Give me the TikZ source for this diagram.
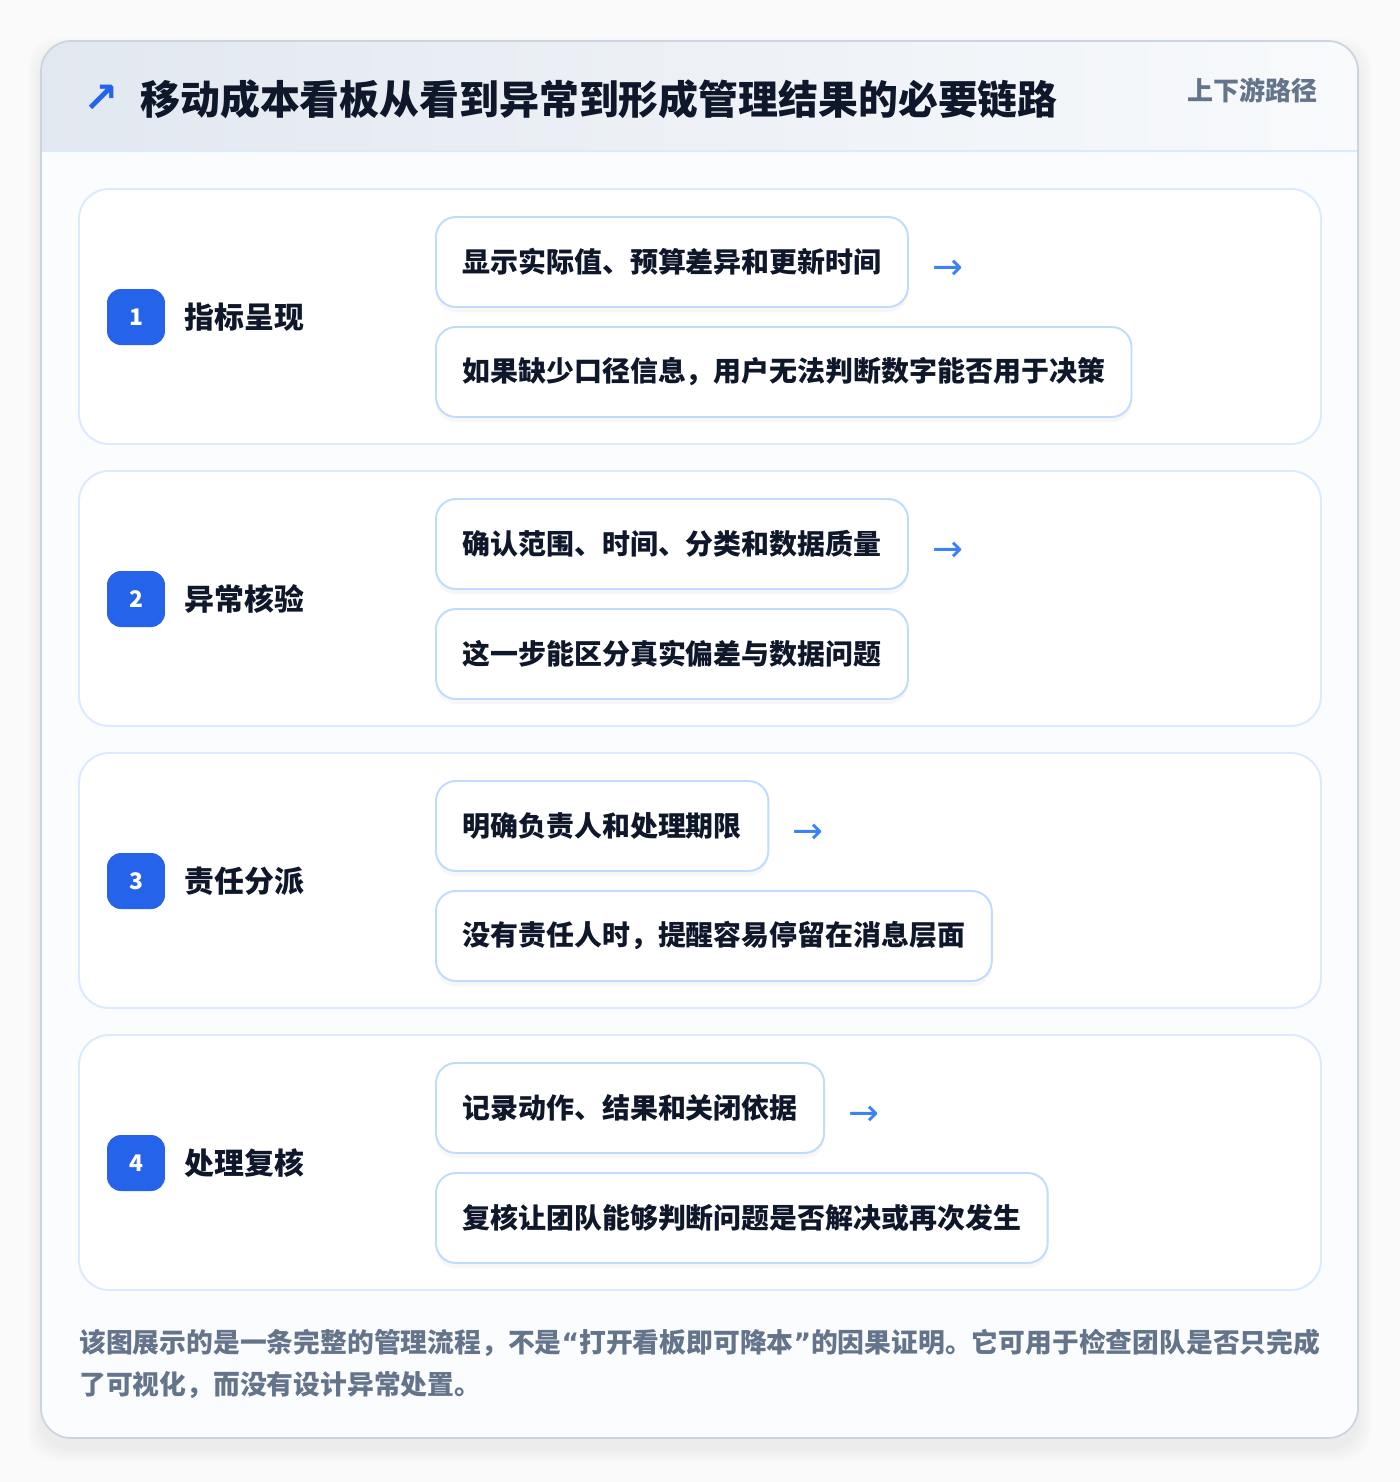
\documentclass[tikz,border=0pt]{standalone}
\usepackage{fontspec}
\setmainfont{Noto Sans CJK SC}
\newfontfamily\symfont{DejaVu Sans}
\usetikzlibrary{positioning, shadows}

\definecolor{ink}{HTML}{0F172A}
\definecolor{muted}{HTML}{64748B}
\definecolor{badgeblue}{HTML}{2563EB}
\definecolor{arrowblue}{HTML}{3B82F6}
\definecolor{secline}{HTML}{DBEAFE}
\definecolor{boxline}{HTML}{BFDBFE}
\definecolor{cardline}{HTML}{CBD5E1}
\definecolor{headleft}{HTML}{E2E8F0}
\definecolor{headright}{HTML}{F8FAFC}
\definecolor{pagebg}{HTML}{FAFAFB}
\definecolor{cardbg}{HTML}{FBFCFE}

\begin{document}
\begin{tikzpicture}[x=0.02cm, y=-0.02cm,
    secbox/.style={draw=secline, line width=1.1pt, fill=white, rounded corners=0.6cm},
    badge/.style={fill=badgeblue, text=white, rounded corners=0.28cm, minimum width=1.16cm,
      minimum height=1.12cm, inner sep=0pt, font=\bfseries\fontsize{13}{13}\selectfont},
    steplabel/.style={text=ink, inner sep=0pt, font=\bfseries\fontsize{17}{20}\selectfont},
    stepbox/.style={draw=boxline, line width=1.1pt, fill=white, rounded corners=0.4cm,
      minimum height=1.8cm, inner xsep=0.53cm, inner ysep=0pt, text=ink,
      font=\bfseries\fontsize{15.9}{19}\selectfont,
      drop shadow={opacity=0.06, shadow xshift=0pt, shadow yshift=-3pt}},
    flowarrow/.style={text=arrowblue, inner sep=0pt, yshift=-4.5pt, font=\symfont\fontsize{21}{21}\selectfont},
  ]
  \useasboundingbox (0,0) rectangle (1400,1482);
  \fill[pagebg] (0,0) rectangle (1400,1482);

  % card shadow
  \foreach \d in {1,...,14}
    \fill[black, opacity=0.005, rounded corners=0.6cm] ({41-\d},{41-\d+10}) rectangle ({1358+\d},{1438+\d+10});

  % card and header band
  \fill[cardbg, rounded corners=0.6cm] (41,41) rectangle (1358,1438);
  \begin{scope}
    \clip[rounded corners=0.6cm] (41,41) rectangle (1358,1438);
    \shade[left color=headleft, right color=headright] (41,41) rectangle (1358,151);
  \end{scope}
  \draw[secline, line width=1pt] (41,151) -- (1358,151);
  \draw[cardline, line width=1pt, rounded corners=0.6cm] (41,41) rectangle (1358,1438);

  \node[text=badgeblue, inner sep=0pt, font=\symfont\bfseries\fontsize{24}{24}\selectfont] (icon) at (101,99) {↗};
  \node[anchor=west, text=ink, inner sep=0pt, font=\bfseries\fontsize{22.7}{26}\selectfont] (title) at (140,99)
    {移动成本看板从看到异常到形成管理结果的必要链路};
  \node[anchor=east, text=muted, inner sep=0pt, font=\bfseries\fontsize{14.8}{18}\selectfont] (tag) at (1318,90)
    {上下游路径};

  % the four stages
  \foreach \k/\lab/\ta/\tb in {
      1/指标呈现/显示实际值、预算差异和更新时间/如果缺少口径信息，用户无法判断数字能否用于决策,
      2/异常核验/确认范围、时间、分类和数据质量/这一步能区分真实偏差与数据问题,
      3/责任分派/明确负责人和处理期限/没有责任人时，提醒容易停留在消息层面,
      4/处理复核/记录动作、结果和关闭依据/复核让团队能够判断问题是否解决或再次发生} {
    \pgfmathsetmacro\t{189+282*(\k-1)}
    \draw[secbox] (79,\t) rectangle (1321,{\t+255});
    \node[badge] (badge\k) at (136,{\t+128}) {\k};
    \node[steplabel, right=0.38cm of badge\k] (label\k) {\lab};
    \node[stepbox, anchor=west] (stepa\k) at (435,{\t+73}) {\ta};
    \node[stepbox, anchor=west] (stepb\k) at (435,{\t+183}) {\tb};
    \node[flowarrow, right=0.46cm of stepa\k] (arrow\k) {→};
  }

  % footnote
  \node[anchor=base west, text=muted, inner sep=0pt, font=\bfseries\fontsize{15.25}{18}\selectfont] (note1) at (79,1352)
    {该图展示的是一条完整的管理流程，不是{\symfont “}打开看板即可降本{\symfont ”}的因果证明。它可用于检查团队是否只完成};
  \node[anchor=base west, text=muted, inner sep=0pt, font=\bfseries\fontsize{15.25}{18}\selectfont] (note2) at (79,1394)
    {了可视化，而没有设计异常处置。};
\end{tikzpicture}
\end{document}
